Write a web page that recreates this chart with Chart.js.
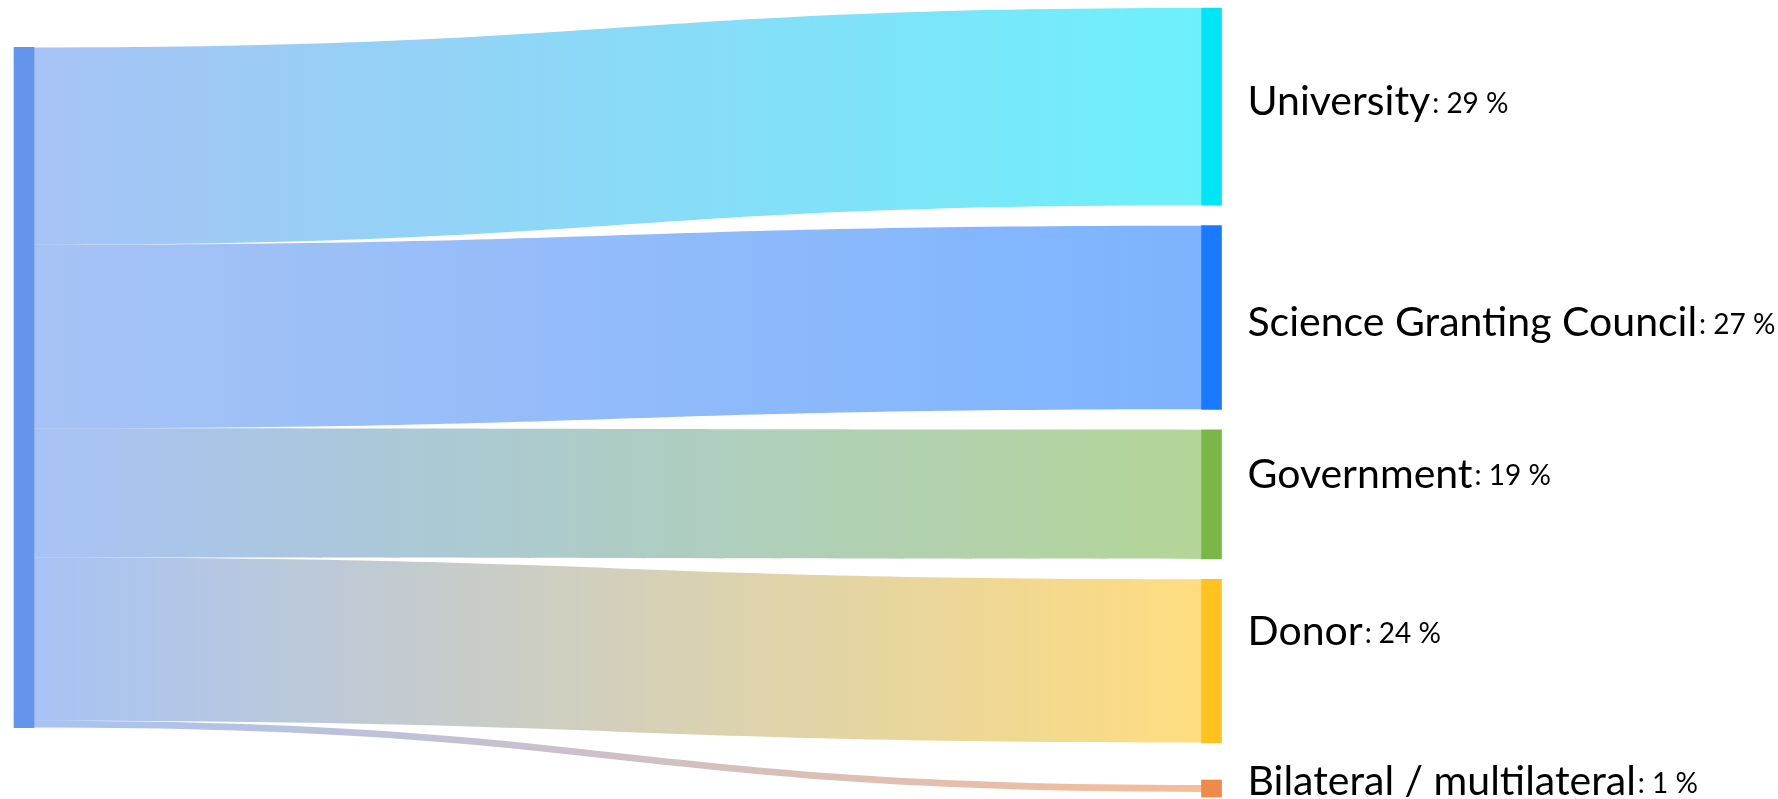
<!DOCTYPE html>
<html>
<head>
<meta charset="utf-8">
<script src="https://cdn.jsdelivr.net/npm/chart.js@4/dist/chart.umd.min.js"></script>
<style>
  html, body { margin: 0; padding: 0; background: #fff; }
  #wrap { width: 1778px; height: 799px; position: relative; }
</style>
</head>
<body>
<div id="wrap"><canvas id="sankey"></canvas></div>
<script>
// data
const sourceName = "Funding";
const targets = ["University", "Science Granting Council", "Government", "Donor", "Bilateral / multilateral"];
const shares = [29, 27, 19, 24, 1];

const sourceColor = "#6495ed";
const targetColors = ["#00e5f6", "#1a7aff", "#7ab648", "#ffc21e", "#ef8a48"];

// layout (in value units of the y scale)
const GAP = 3.0;
const MIN_NODE = 2.5;
const SRC_TOP = 5.8;
const Y_MAX = 116;
const NODE_W = 20;
const FLOW_ALPHA = 0.57;

const total = shares.reduce((a, b) => a + b, 0);

// target node ranges + where each flow meets its node
const targetNodes = [];
let cursor = 0;
shares.forEach((v, i) => {
  const size = Math.max(v, MIN_NODE);
  const top = i === shares.length - 1 ? Y_MAX - size : cursor;
  targetNodes.push({ top, bottom: top + size, inTop: top + (size - v) / 2 });
  cursor = top + size + GAP;
});

let srcCursor = SRC_TOP;
const flows = shares.map((v, i) => {
  const f = { from: srcCursor, to: targetNodes[i].inTop, value: v, color: targetColors[i] };
  srcCursor += v;
  return f;
});

const nodeData = [{ x: 0, y: [SRC_TOP, SRC_TOP + total] }].concat(
  targetNodes.map((n) => ({ x: 1, y: [n.top, n.bottom] }))
);

function rgba(hex, a) {
  const n = parseInt(hex.slice(1), 16);
  return `rgba(${(n >> 16) & 255},${(n >> 8) & 255},${n & 255},${a})`;
}

const flowPlugin = {
  id: "flows",
  beforeDatasetsDraw(chart) {
    const { ctx, scales } = chart;
    const x0 = scales.x.getPixelForValue(0) + NODE_W / 2;
    const x1 = scales.x.getPixelForValue(1) - NODE_W / 2;
    const cx = (x0 + x1) / 2;
    ctx.save();
    flows.forEach((f) => {
      const ya = scales.y.getPixelForValue(f.from);
      const yb = scales.y.getPixelForValue(f.from + f.value);
      const yc = scales.y.getPixelForValue(f.to);
      const yd = scales.y.getPixelForValue(f.to + f.value);
      const g = ctx.createLinearGradient(x0, 0, x1, 0);
      g.addColorStop(0, rgba(sourceColor, FLOW_ALPHA));
      g.addColorStop(1, rgba(f.color, FLOW_ALPHA));
      ctx.fillStyle = g;
      ctx.beginPath();
      ctx.moveTo(x0, ya);
      ctx.bezierCurveTo(cx, ya, cx, yc, x1, yc);
      ctx.lineTo(x1, yd);
      ctx.bezierCurveTo(cx, yd, cx, yb, x0, yb);
      ctx.closePath();
      ctx.fill();
    });
    ctx.restore();
  },
};

const labelPlugin = {
  id: "nodeLabels",
  afterDatasetsDraw(chart, args, opts) {
    const { ctx, scales } = chart;
    const x = scales.x.getPixelForValue(1) + NODE_W / 2 + opts.gap;
    ctx.save();
    ctx.fillStyle = "#000";
    ctx.textBaseline = "middle";
    targets.forEach((name, i) => {
      const n = targetNodes[i];
      const y = scales.y.getPixelForValue((n.top + n.bottom) / 2) + opts.nudge[i];
      ctx.font = `${opts.size}px ${opts.family}`;
      ctx.fillText(name, x, y);
      const w = ctx.measureText(name).width;
      ctx.font = `${opts.smallSize}px ${opts.family}`;
      ctx.fillText(": " + shares[i] + " %", x + w + 2, y + 2);
    });
    ctx.restore();
  },
};

new Chart(document.getElementById("sankey"), {
  type: "bar",
  data: {
    datasets: [
      {
        label: sourceName,
        data: nodeData,
        backgroundColor: [sourceColor].concat(targetColors),
        barThickness: NODE_W,
        borderWidth: 0,
        clip: false,
      },
    ],
  },
  options: {
    responsive: true,
    maintainAspectRatio: false,
    animation: false,
    layout: { padding: { left: 24, right: 566.5, top: 8, bottom: 2 } },
    scales: {
      x: { type: "linear", min: 0, max: 1, offset: false, display: false },
      y: { type: "linear", min: 0, max: Y_MAX, reverse: true, display: false },
    },
    plugins: {
      legend: { display: false },
      tooltip: { enabled: false },
      nodeLabels: {
        gap: 26,
        family: "Lato, 'Open Sans', sans-serif",
        size: 41,
        smallSize: 28,
        nudge: [-5, 5, -20, -29, -7],
      },
    },
  },
  plugins: [flowPlugin, labelPlugin],
});
</script>
</body>
</html>
